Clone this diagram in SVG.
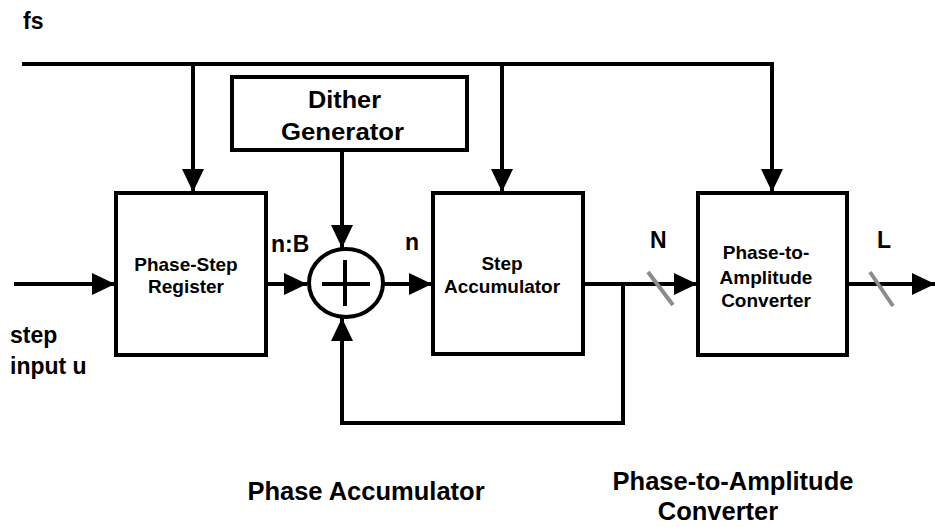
<svg xmlns="http://www.w3.org/2000/svg" width="935" height="527" viewBox="0 0 935 527">
  <defs>
    <marker id="arr" markerUnits="userSpaceOnUse" markerWidth="24" markerHeight="24" refX="23" refY="11" orient="auto" viewBox="0 0 24 22">
      <path d="M0,0 L23,11 L0,22 Z" fill="#000"/>
    </marker>
  </defs>
  <style>
    .box { fill: #fff; stroke: #000; stroke-width: 4; }
    .ln { fill: none; stroke: #000; stroke-width: 4; }
    .slash { fill: none; stroke: #8c8c8c; stroke-width: 4; }
    text { font-family: "Liberation Sans", Arial, sans-serif; font-weight: bold; fill: #000; }
    .lbl { font-size: 23px; }
    .blk { font-size: 19px; text-anchor: middle; }
    .big { font-size: 24px; text-anchor: middle; }
    .cap { font-size: 25.5px; text-anchor: middle; }
  </style>
  <rect width="935" height="527" fill="#fff"/>

  <g id="connectors">
    <path class="ln" d="M22,64 H772 V192" marker-end="url(#arr)"/>
    <path class="ln" d="M193,64 V192" marker-end="url(#arr)"/>
    <path class="ln" d="M502,64 V192" marker-end="url(#arr)"/>
    <path class="ln" d="M14,284 H115" marker-end="url(#arr)"/>
    <path class="ln" d="M266,284 H307" marker-end="url(#arr)"/>
    <path class="ln" d="M342,150 V248" marker-end="url(#arr)"/>
    <path class="ln" d="M383,284 H432" marker-end="url(#arr)"/>
    <path class="ln" d="M583,284 H697" marker-end="url(#arr)"/>
    <path class="ln" d="M847,284 H935" marker-end="url(#arr)"/>
    <path class="ln" d="M623,284 V423 H342 V318" marker-end="url(#arr)"/>
    <path class="slash" d="M648,272 L673,305"/>
    <path class="slash" d="M870,272 L893,306"/>
  </g>

  <g id="fs-label"><text class="lbl" x="23" y="29">fs</text></g>

  <g id="phase-step-register">
    <rect class="box" x="116" y="193" width="150" height="162"/>
    <text class="blk" x="186" y="271">Phase-Step</text>
    <text class="blk" x="186" y="293">Register</text>
  </g>

  <g id="dither-generator">
    <rect class="box" x="232" y="77" width="235" height="73"/>
    <text class="big" x="344.5" y="108" textLength="73" lengthAdjust="spacingAndGlyphs">Dither</text>
    <text class="big" x="342.5" y="140" textLength="123" lengthAdjust="spacingAndGlyphs">Generator</text>
  </g>

  <g id="summer">
    <ellipse class="ln" cx="346" cy="283" rx="37" ry="34"/>
    <path class="ln" d="M322,284 H370 M345,260 V306"/>
  </g>

  <g id="step-accumulator">
    <rect class="box" x="433" y="193" width="150" height="161"/>
    <text class="blk" x="502" y="270">Step</text>
    <text class="blk" x="502" y="293">Accumulator</text>
  </g>

  <g id="phase-to-amplitude-converter">
    <rect class="box" x="698" y="193" width="149" height="162"/>
    <text class="blk" x="766" y="259">Phase-to-</text>
    <text class="blk" x="766" y="284">Amplitude</text>
    <text class="blk" x="766" y="307">Converter</text>
  </g>

  <g id="labels">
    <text class="lbl" x="271" y="252">n:B</text>
    <text class="lbl" x="405" y="250">n</text>
    <text class="lbl" x="650" y="248">N</text>
    <text class="lbl" x="877" y="248">L</text>
    <text class="lbl" x="10" y="343" font-size="25">step</text>
    <text class="lbl" x="10" y="374" font-size="25">input u</text>
    <text class="cap" x="366" y="500">Phase Accumulator</text>
    <text class="cap" x="733" y="490">Phase-to-Amplitude</text>
    <text class="cap" x="718" y="520">Converter</text>
  </g>
</svg>
